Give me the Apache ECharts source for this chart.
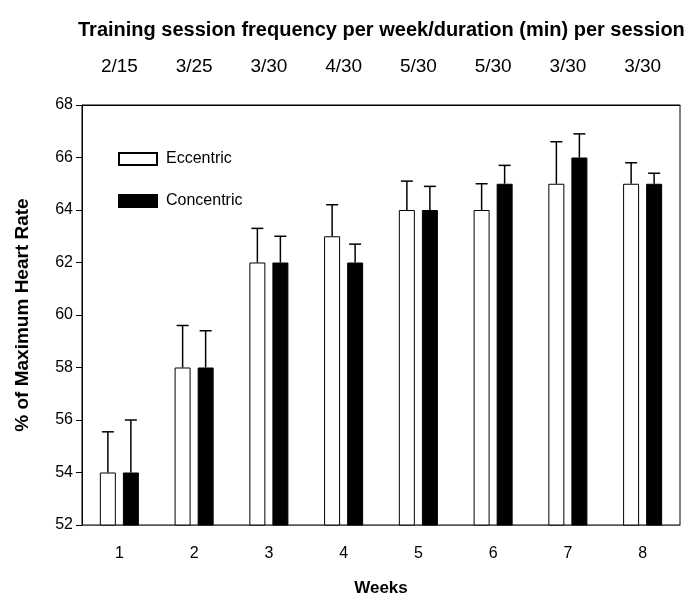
<!DOCTYPE html>
<html>
<head>
<meta charset="utf-8">
<script src="https://cdn.jsdelivr.net/npm/echarts@6/dist/echarts.min.js"></script>
<style>
  html, body { margin: 0; padding: 0; background: #fff; }
  #chart { width: 694px; height: 599px; }
</style>
</head>
<body>
<div id="chart"></div>
<script>
// 数据
const weeks = ['1', '2', '3', '4', '5', '6', '7', '8']
const sessionLabels = ['2/15', '3/25', '3/30', '4/30', '5/30', '5/30', '3/30', '3/30']
const eccentric = [54, 58, 62, 63, 64, 64, 65, 65]
const eccentricErr = [55.55, 59.6, 63.3, 64.2, 65.1, 65.0, 66.6, 65.8]
const concentric = [54, 58, 62, 62, 64, 65, 66, 65]
const concentricErr = [56.0, 59.4, 63.0, 62.7, 64.9, 65.7, 66.9, 65.4]
const yTicks = { min: 52, max: 68, interval: 2 }

const font = 'Liberation Sans, Arial, sans-serif'
const chart = echarts.init(document.getElementById('chart'))

// 误差线（只画上方）
const errorSeries = (vals, tops, offset) => ({
  type: 'custom',
  xAxisIndex: 0,
  z: 1,
  data: vals.map((v, i) => [i, v, tops[i]]),
  renderItem: (params, api) => {
    const base = api.coord([api.value(0), api.value(1)])
    const top = api.coord([api.value(0), api.value(2)])
    const x = base[0] + offset
    const cap = 6
    return {
      type: 'group',
      children: [
        { type: 'line', shape: { x1: x, y1: base[1], x2: x, y2: top[1] }, style: { stroke: '#000', lineWidth: 1.5 } },
        { type: 'line', shape: { x1: x - cap, y1: top[1], x2: x + cap, y2: top[1] }, style: { stroke: '#000', lineWidth: 1.5 } }
      ]
    }
  }
})

const option = {
  animation: false,
  title: {
    text: 'Training session frequency per week/duration (min) per session',
    left: 73,
    top: 15,
    textStyle: { fontFamily: font, fontSize: 20, fontWeight: 'bold', color: '#000' }
  },
  legend: {
    data: ['Eccentric', 'Concentric'],
    orient: 'vertical',
    left: 113,
    top: 146,
    itemWidth: 38,
    itemHeight: 12,
    itemGap: 26,
    icon: 'rect',
    textStyle: { fontFamily: font, fontSize: 16, color: '#000', padding: [0, 0, 0, 4] }
  },
  grid: {
    left: 82, right: 14, top: 105, bottom: 74,
    containLabel: false,
    outerBoundsMode: 'none',
    show: true, borderColor: '#000', borderWidth: 1
  },
  xAxis: [
    {
      type: 'category',
      data: weeks,
      position: 'bottom',
      name: 'Weeks',
      nameLocation: 'middle',
      nameGap: 55,
      nameTextStyle: { fontFamily: font, fontSize: 17, fontWeight: 'bold', color: '#000' },
      axisLine: { lineStyle: { color: '#555', width: 1 } },
      axisTick: { alignWithLabel: true, length: 5, lineStyle: { color: '#000' } },
      axisLabel: { fontFamily: font, fontSize: 16, color: '#000', margin: 21 }
    },
    {
      type: 'category',
      data: sessionLabels,
      position: 'top',
      axisLine: { lineStyle: { color: '#000', width: 1 } },
      axisTick: { alignWithLabel: true, length: 12, lineStyle: { color: '#000' } },
      axisLabel: { fontFamily: font, fontSize: 19, color: '#000', margin: 29 }
    }
  ],
  yAxis: {
    type: 'value',
    min: yTicks.min,
    max: yTicks.max,
    interval: yTicks.interval,
    name: '% of Maximum Heart Rate',
    nameLocation: 'middle',
    nameGap: 50,
    nameTextStyle: { fontFamily: font, fontSize: 19, fontWeight: 'bold', color: '#000' },
    axisLine: { show: true, lineStyle: { color: '#000', width: 1 } },
    axisTick: { show: true, length: 6, lineStyle: { color: '#000' } },
    axisLabel: { fontFamily: font, fontSize: 16, color: '#000', margin: 9 },
    splitLine: { show: false }
  },
  series: [
    {
      name: 'Eccentric',
      type: 'bar',
      data: eccentric,
      barWidth: 16,
      barGap: '44%',
      z: 2,
      itemStyle: { color: '#fff', borderColor: '#000', borderWidth: 1 }
    },
    {
      name: 'Concentric',
      type: 'bar',
      data: concentric,
      barWidth: 16,
      z: 2,
      itemStyle: { color: '#000', borderColor: '#000', borderWidth: 1 }
    },
    errorSeries(eccentric, eccentricErr, -11.5),
    errorSeries(concentric, concentricErr, 11.5)
  ]
}

chart.setOption(option)
</script>
</body>
</html>
